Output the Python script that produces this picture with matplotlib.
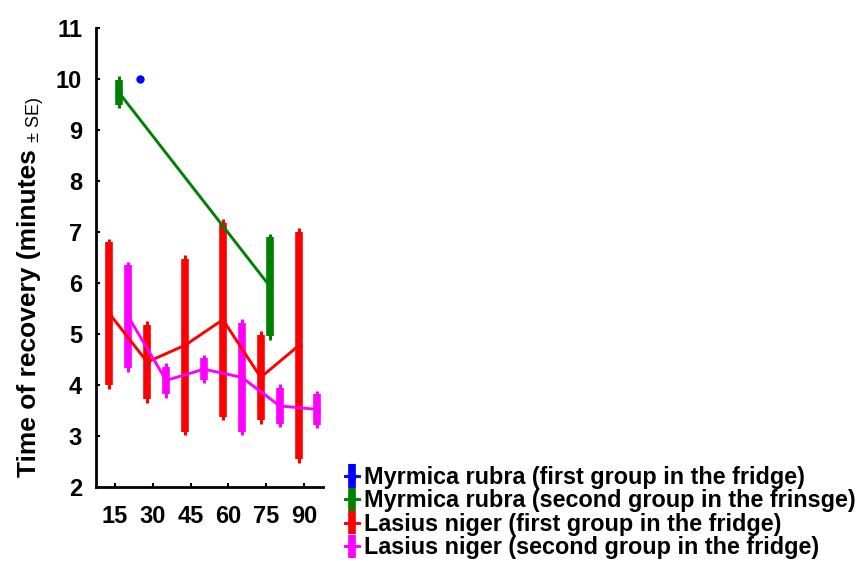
import numpy as np
import matplotlib.pyplot as plt

plt.rcParams['font.family'] = ['Liberation Sans', 'DejaVu Sans']

# temps (minutes dans le frigo)
times = [15, 30, 45, 60, 75, 90]

# Lasius niger, premier groupe
red_mean = [5.40, 4.45, 4.78, 5.28, 4.15, 4.77]
red_se = [1.40, 0.73, 1.70, 1.90, 0.84, 2.23]

# Lasius niger, second groupe
mag_mean = [5.34, 4.09, 4.31, 4.15, 3.59, 3.52]
mag_se = [1.01, 0.27, 0.21, 1.07, 0.35, 0.30]

# Myrmica rubra, second groupe
green_times = [15, 75]
green_mean = [9.74, 5.93]
green_se = [0.24, 0.97]

# Myrmica rubra, premier groupe
blue_times = [15]
blue_mean = [10.0]
blue_se = [0.0]

labels = ['Myrmica rubra (first group in the fridge)',
          'Myrmica rubra (second group in the frinsge)',
          'Lasius niger (first group in the fridge)',
          'Lasius niger (second group in the fridge)']

fig = plt.figure(figsize=(8.58, 5.66), dpi=100)
ax = fig.add_axes([0.1119, 0.1396, 0.2646, 0.8109])

series = [
    (blue_times, blue_mean, blue_se, 'blue', 10.0),
    (green_times, green_mean, green_se, 'green', 1.5),
    (times, red_mean, red_se, 'red', -2.2),
    (times, mag_mean, mag_se, 'magenta', 5.3),
]

handles = []
for t, m, se, col, off in series:
    x = np.array(t) + off
    m = np.array(m)
    se = np.array(se)
    # petites pointes fines aux extremites
    tips = np.where(se > 0, se + 0.07, 0)
    ax.errorbar(x, m, yerr=tips, fmt='none', ecolor=col, elinewidth=2.2, capsize=0)
    h = ax.errorbar(x, m, yerr=se, fmt='o-', color=col, ecolor=col, elinewidth=5.5,
                    lw=2.1, ms=3.5 if col != 'blue' else 5, capsize=0)
    handles.append(h)

ax.set_xlim(7.5, 97.5)
ax.set_ylim(2, 11)
ax.set_xticks(times)
ax.set_yticks(range(2, 12))
ax.spines['top'].set_visible(False)
ax.spines['right'].set_visible(False)
ax.spines['left'].set_linewidth(2)
ax.spines['bottom'].set_linewidth(2)
ax.tick_params(direction='in', length=3, width=1.5, labelsize=17, pad=10)
ax.tick_params(axis='x', pad=13)
for lab in ax.get_xticklabels() + ax.get_yticklabels():
    lab.set_fontweight('bold')

# etiquette de l'axe y en deux morceaux
t1 = fig.text(0.034, 1 - 477 / 566, 'Time of recovery (minutes ', rotation=90,
              fontsize=19, fontweight='bold', ha='center', va='bottom')
fig.canvas.draw()
bb = t1.get_window_extent().transformed(fig.transFigure.inverted())
fig.text(0.040, bb.y1, '\u00b1 SE)', rotation=90, fontsize=13,
         ha='center', va='bottom')

fig.legend(handles, labels, loc='upper left', bbox_to_anchor=(345 / 858, 1 - 466 / 566),
           frameon=False, prop={'weight': 'bold', 'size': 16.8},
           handlelength=0.6, handletextpad=0.2, labelspacing=0.02, borderpad=0,
           borderaxespad=0)

fig.savefig('out.png', dpi=100)
